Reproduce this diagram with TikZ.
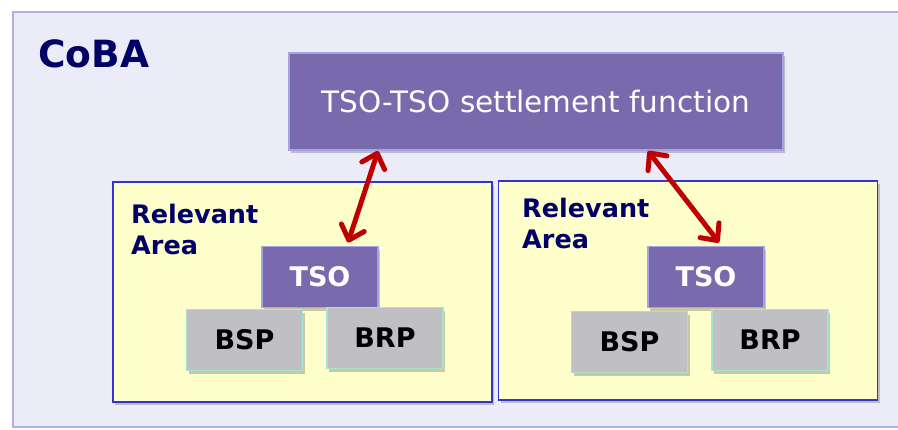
\documentclass[tikz,border=0pt]{standalone}
\usepackage{fontspec}
\setmainfont{DejaVu Sans}
\usetikzlibrary{shadows,arrows.meta}

\definecolor{pageback}{HTML}{ECECF8}
\definecolor{pageline}{HTML}{B0B0E8}
\definecolor{navy}{HTML}{000066}
\definecolor{tsofill}{HTML}{786AAC}
\definecolor{tsoline}{HTML}{A4A4E4}
\definecolor{areafill}{HTML}{FFFFCC}
\definecolor{arealine}{HTML}{3434CC}
\definecolor{partyfill}{HTML}{C0C0C4}
\definecolor{partyline}{HTML}{A8E4CC}
\definecolor{linkred}{HTML}{C00000}

\tikzset{
  softshadow/.style={drop shadow={shadow xshift=2pt,shadow yshift=-3pt,opacity=0.3,fill=black!70}},
  tsobox/.style={rectangle,inner sep=0pt,outer sep=0pt,fill=tsofill,draw=tsoline,
    line width=1.5pt,softshadow,text=white},
  areabox/.style={rectangle,inner sep=0pt,outer sep=0pt,fill=areafill,draw=arealine,
    line width=1.5pt,softshadow},
  partybox/.style={rectangle,inner sep=0pt,outer sep=0pt,fill=partyfill,draw=partyline,
    line width=1.5pt,softshadow,text=black,minimum width=116pt,minimum height=61pt,
    font=\fontsize{27}{32}\selectfont\bfseries},
  unitbox/.style={tsobox,minimum width=116pt,minimum height=61pt,
    font=\fontsize{27}{32}\selectfont\bfseries},
  arealabel/.style={anchor=north west,inner sep=0pt,align=left,text=navy,
    font=\fontsize{25.5}{31}\selectfont\bfseries},
  link/.style={draw=linkred,line width=5pt,line cap=round,
    {Straight Barb[length=13pt,width=24pt,line width=5pt,round]}-{Straight Barb[length=13pt,width=24pt,line width=5pt,round]}}
}

\begin{document}
\begin{tikzpicture}[x=1pt,y=-1pt]
  \useasboundingbox (0,0) rectangle (898,429);

  % control-area background
  \draw[fill=pageback,draw=pageline,line width=1.5pt] (13,12) rectangle (910,427);
  \node[anchor=base west,inner sep=0pt,text=navy,font=\fontsize{37.5}{44}\selectfont\bfseries]
    (coba) at (38,67) {CoBA};

  % settlement function
  \node[tsobox,minimum width=494pt,minimum height=97pt,font=\fontsize{29.5}{35}\selectfont]
    (settle) at (536,101.5) {TSO-TSO settlement function};

  % relevant areas
  \node[areabox,minimum width=379pt,minimum height=220pt] (areaL) at (302.5,292) {};
  \node[areabox,minimum width=379pt,minimum height=219pt] (areaR) at (688,290.5) {};
  \node[arealabel] (labL) at (131,204) {Relevant\\Area};
  \node[arealabel] (labR) at (522,198) {Relevant\\Area};

  % parties in the left area
  \node[unitbox] (tsoL) at (320,277) {TSO};
  \node[partybox] (bspL) at (244.5,340) {BSP};
  \node[partybox] (brpL) at (385,338) {BRP};

  % parties in the right area
  \node[unitbox] (tsoR) at (706,277) {TSO};
  \node[partybox] (bspR) at (629.5,342) {BSP};
  \node[partybox] (brpR) at (770,340) {BRP};

  % settlement links between each TSO and the settlement function
  \draw[link] ([xshift=89pt,yshift=-1pt]settle.south west) -- ([xshift=28pt,yshift=4pt]tsoL.north);
  \draw[link] ([xshift=-135pt,yshift=-1pt]settle.south east) -- ([xshift=13pt,yshift=4pt]tsoR.north);
\end{tikzpicture}
\end{document}
